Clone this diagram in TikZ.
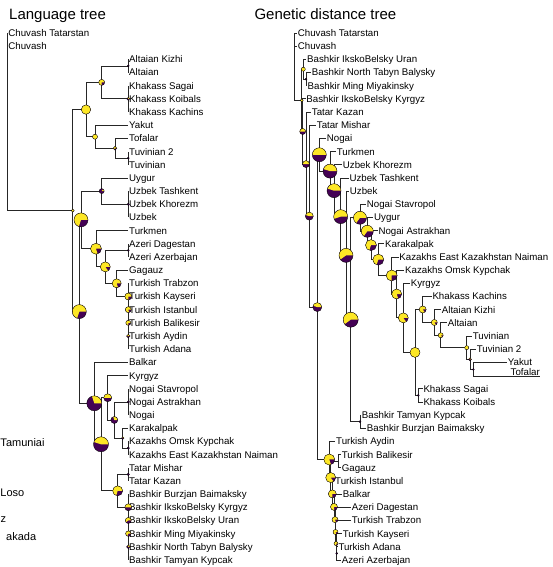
\documentclass[tikz,border=0pt]{standalone}
\usepackage{fontspec}
\setmainfont{Liberation Sans}
\definecolor{vyel}{HTML}{FDE725}
\definecolor{vpur}{HTML}{440154}
\definecolor{brc}{HTML}{262626}
\newcommand\labfont{\fontsize{9.7}{11}\selectfont}
\newcommand\ttlfont{\fontsize{15}{18}\selectfont}
\newcommand\cutfont{\fontsize{11}{13}\selectfont}
\newcommand\pieat[3]{%
  \fill[vpur] (#1) circle[radius=#2];
  \ifdim #3pt>0pt
    \fill[vyel] (#1) -- ++(0:#2) arc[start angle=0,end angle={-360*#3},radius=#2] -- cycle;
  \fi
  \draw[pieedge] (#1) circle[radius=#2];}
\begin{document}
\begin{tikzpicture}[x=1pt,y=-1pt,
  br/.style={draw=brc,line width=0.75pt},
  pieedge/.style={draw=black,line width=0.35pt},
  lab/.style={anchor=west,inner xsep=0.7pt,inner ysep=0pt,text height=6.9pt,text depth=0pt,font=\labfont},
  ttl/.style={anchor=base west,inner sep=0pt,font=\ttlfont},
  cut/.style={anchor=base west,inner sep=0pt,font=\cutfont},
  declare function={yy(\k)=33+13.175*\k;}]
\useasboundingbox (0,0) rectangle (552,567);
\clip (0,0) rectangle (552,567);

% titles
\node[ttl] (t1) at (9,19.3) {Language tree};
\node[ttl] (t2) at (254.3,19.3) {Genetic distance tree};

% texts at the left edge
\node[cut] (c1) at (0.3,446.8) {Tamuniai};
\node[cut] (c2) at (0.3,496.8) {Loso};
\node[cut] (c3) at (0.5,522) {z};
\node[cut] (c4) at (6,540) {akada};

% ---------------- Language tree ----------------
\foreach \n/\t [count=\i from 0] in {lCT/Chuvash Tatarstan,lCh/Chuvash,lAK/Altaian Kizhi,lAlt/Altaian,lKS/Khakass Sagai,lKKo/Khakass Koibals,lKKa/Khakass Kachins,lYak/Yakut,lTof/Tofalar,lTuvB/Tuvinian 2,lTuv/Tuvinian,lUyg/Uygur,lUzT/Uzbek Tashkent,lUzK/Uzbek Khorezm,lUz/Uzbek,lTkm/Turkmen,lAzD/Azeri Dagestan,lAzA/Azeri Azerbajan,lGag/Gagauz,lTrab/Turkish Trabzon,lKays/Turkish Kayseri,lIst/Turkish Istanbul,lBalik/Turkish Balikesir,lAyd/Turkish Aydin,lAda/Turkish Adana,lBalk/Balkar,lKyr/Kyrgyz,lNS/Nogai Stavropol,lNA/Nogai Astrakhan,lNo/Nogai,lKar/Karakalpak,lKO/Kazakhs Omsk Kypchak,lKE/Kazakhs East Kazakhstan Naiman,lTM/Tatar Mishar,lTK/Tatar Kazan,lBBz/Bashkir Burzjan Baimaksky,lBIK/Bashkir IkskoBelsky Kyrgyz,lBIU/Bashkir IkskoBelsky Uran,lBMM/Bashkir Ming Miyakinsky,lBNT/Bashkir North Tabyn Balysky,lBTK/Bashkir Tamyan Kypcak}{
  \pgfmathsetmacro\xx{\i<2 ? 7.5 : 128.3}
  \node[lab] (\n) at (\xx,{yy(\i)}) {\t};
}

\coordinate (lRoot) at (7.5,121.8);
\coordinate (N1) at (72.7,210.6);
\coordinate (S) at (86,109.58);
\coordinate (A) at (101.7,82.41);
\coordinate (A1) at (128.3,65.94);
\coordinate (A2) at (128.3,98.875);
\coordinate (B) at (95,136.75);
\coordinate (C) at (115,148.28);
\coordinate (D) at (128.3,158.16);
\coordinate (E) at (79.3,311.63);
\coordinate (F) at (81,219.92);
\coordinate (U) at (101.7,191.1);
\coordinate (Uz) at (128.3,204.275);
\coordinate (O) at (96,248.74);
\coordinate (O2) at (105.3,266.86);
\coordinate (Az) at (128.3,250.39);
\coordinate (O3) at (116.7,283.33);
\coordinate (P1) at (94.3,403.34);
\coordinate (P2) at (101,444.31);
\coordinate (K1) at (107.7,397.78);
\coordinate (K2) at (114.3,420.02);
\coordinate (K3) at (122.7,438.13);
\coordinate (Nog) at (128.3,401.9);
\coordinate (Kaz) at (128.3,448.01);
\coordinate (TB) at (117.7,490.83);
\coordinate (Tat) at (128.3,474.36);

\draw[br] (lRoot) |- (lCT.west) (lRoot) |- (lCh.west) (lRoot) |- (N1);
\draw[br] (N1) |- (S) (N1) |- (E);
\draw[br] (S) |- (A) (S) |- (B);
\draw[br] (A) |- (A1) (A) |- (A2);
\draw[br] (A1) |- (lAK.west) (A1) |- (lAlt.west);
\draw[br] (A2) |- (lKS.west) (A2) |- (lKKo.west) (A2) |- (lKKa.west);
\draw[br] (B) |- (lYak.west) (B) |- (C);
\draw[br] (C) |- (lTof.west) (C) |- (D);
\draw[br] (D) |- (lTuvB.west) (D) |- (lTuv.west);
\draw[br] (E) |- (F) (E) |- (P1);
\draw[br] (F) |- (U) (F) |- (O);
\draw[br] (U) |- (lUyg.west) (U) |- (Uz);
\draw[br] (Uz) |- (lUzT.west) (Uz) |- (lUzK.west) (Uz) |- (lUz.west);
\draw[br] (O) |- (lTkm.west) (O) |- (O2);
\draw[br] (O2) |- (Az) (O2) |- (O3);
\draw[br] (Az) |- (lAzD.west) (Az) |- (lAzA.west);
\draw[br] (O3) |- (lGag.west) (O3) |- (lKays.west);
\draw[br] (lTrab.west) -- (lAda.west);
\draw[br] (P1) |- (lBalk.west) (P1) |- (P2);
\draw[br] (P2) |- (K1) (P2) |- (TB);
\draw[br] (K1) |- (lKyr.west) (K1) |- (K2);
\draw[br] (K2) |- (Nog) (K2) |- (K3);
\draw[br] (Nog) |- (lNS.west) (Nog) |- (lNo.west);
\draw[br] (K3) |- (lKar.west) (K3) |- (Kaz);
\draw[br] (Kaz) |- (lKO.west) (Kaz) |- (lKE.west);
\draw[br] (TB) |- (Tat) (TB) |- (lBIK.west);
\draw[br] (Tat) |- (lTM.west) (Tat) |- (lTK.west);
\draw[br] (lBBz.west) -- (lBTK.west);

\pieat{N1}{1.5}{1}
\pieat{S}{4.7}{1}
\pieat{A}{3}{0.75}
\pieat{A1}{1}{0}
\pieat{A2}{1.5}{0.3}
\pieat{B}{2.5}{1}
\pieat{C}{1.8}{0.6}
\pieat{D}{1}{0}
\pieat{U}{2.5}{0.15}
\pieat{Uz}{1.2}{0}
\pieat{F}{7}{0.7}
\pieat{O}{5.5}{0.8}
\pieat{O2}{5}{0.85}
\pieat{O3}{4.5}{0.8}
\pieat{Az}{1}{0}
\pieat{lKays.west}{3.5}{0.75}
\pieat{lIst.west}{3}{0.8}
\pieat{lBalik.west}{2.5}{0.75}
\pieat{lAyd.west}{1.8}{0.5}
\pieat{E}{7}{0.7}
\pieat{P1}{7.5}{0.3}
\pieat{K1}{4}{0.5}
\pieat{K2}{3.5}{0.3}
\pieat{K3}{1.3}{0.3}
\pieat{Nog}{1.2}{0}
\pieat{Kaz}{1.2}{0}
\pieat{P2}{7.5}{0.45}
\pieat{TB}{5}{0.7}
\pieat{Tat}{1.2}{0}
\pieat{lBIK.west}{3.5}{0.5}
\pieat{lBIU.west}{3}{0.6}
\pieat{lBMM.west}{2.7}{0.7}
\pieat{lBNT.west}{1.8}{0.3}

% ---------------- Genetic distance tree ----------------
\foreach \n/\x/\i/\t in {rCT/297/0/Chuvash Tatarstan,rCh/297/1/Chuvash,rBIU/306.3/2/Bashkir IkskoBelsky Uran,rBNT/311/3/Bashkir North Tabyn Balysky,rBMM/306.8/4/Bashkir Ming Miyakinsky,rBIK/305.5/5/Bashkir IkskoBelsky Kyrgyz,rTK/311/6/Tatar Kazan,rTM/316/7/Tatar Mishar,rNo/326/8/Nogai,rTkm/336/9/Turkmen,rUzK/342/10/Uzbek Khorezm,rUzT/348.6/11/Uzbek Tashkent,rUz/349/12/Uzbek,rNS/366/13/Nogai Stavropol,rUyg/373.3/14/Uygur,rNA/377.6/15/Nogai Astrakhan,rKar/384.3/16/Karakalpak,rKE/398.5/17/Kazakhs East Kazakhstan Naiman,rKO/404.3/18/Kazakhs Omsk Kypchak,rKyr/410/19/Kyrgyz,rKKa/431.6/20/Khakass Kachins,rAK/441/21/Altaian Kizhi,rAlt/447/22/Altaian,rTuv/472/23/Tuvinian,rTuvB/476/24/Tuvinian 2,rYak/507/25/Yakut,rKS/422.6/27/Khakass Sagai,rKKo/422.6/28/Khakass Koibals,rBTK/361/29/Bashkir Tamyan Kypcak,rBBz/366/30/Bashkir Burzjan Baimaksky,rAyd/335.3/31/Turkish Aydin,rBalik/341/32/Turkish Balikesir,rGag/341/33/Gagauz,rIst/334.3/34/Turkish Istanbul,rBalk/342/35/Balkar,rAzD/351/36/Azeri Dagestan,rTrab/351/37/Turkish Trabzon,rKays/342/38/Turkish Kayseri,rAda/337.6/39/Turkish Adana,rAzA/341/40/Azeri Azerbajan}{
  \node[lab] (\n) at (\x,{yy(\i)}) {\t};
}
\node[anchor=base east,inner sep=0pt,font=\labfont] (rTof) at (540,375.6) {Tofalar};
\coordinate (tofend) at (540,376.5);

\coordinate (gRoot) at (294,66.7);
\coordinate (gQ) at (301.7,100.37);
\coordinate (gBS) at (303.3,69.23);
\coordinate (gBNM) at (306,79.11);
\coordinate (gR2) at (302.7,131.5);
\coordinate (gR3) at (306,164.12);
\coordinate (gR4) at (309.3,216.18);
\coordinate (gR5) at (317.3,307.13);
\coordinate (gN1) at (319.3,154.77);
\coordinate (gN2) at (330,171.14);
\coordinate (gN3) at (334,190.71);
\coordinate (gN4) at (340.7,216.67);
\coordinate (gN5) at (346,255.41);
\coordinate (gBig) at (350.7,319.73);
\coordinate (gNS) at (360,217.79);
\coordinate (gUY) at (367.3,231.3);
\coordinate (gNA) at (371,245.14);
\coordinate (gKAR) at (378.3,259.65);
\coordinate (gKE) at (391.7,275.49);
\coordinate (gKO) at (396.7,294);
\coordinate (gKY) at (403.3,317.86);
\coordinate (gSIB) at (415,352.4);
\coordinate (gKK) at (422.7,309.48);
\coordinate (gAL1) at (434.3,322.47);
\coordinate (gAL2) at (440.7,335.26);
\coordinate (gT) at (466.7,347.67);
\coordinate (gX) at (470,359.32);
\coordinate (gYT) at (473.3,369.44);
\coordinate (gKSK) at (418.3,395.31);
\coordinate (gBB) at (360,421.66);
\coordinate (gT1) at (329.3,459.49);
\coordinate (gT2) at (330.7,477.56);
\coordinate (gBG) at (338.3,461.19);
\coordinate (gT3) at (332.3,493.92);
\coordinate (gT4) at (334,506.89);
\coordinate (gT5) at (335,519.65);
\coordinate (gT6) at (335.5,532);
\coordinate (gT7) at (336,543.53);
\coordinate (gT8) at (336.7,553.41);

\draw[br] (gRoot) |- (rCT.west) (gRoot) |- (rCh.west) (gRoot) |- (gQ);
\draw[br] (gQ) |- (gBS) (gQ) |- (gR2);
\draw[br] (gBS) |- (rBIU.west) (gBS) |- (gBNM);
\draw[br] (gBNM) |- (rBNT.west) (gBNM) |- (rBMM.west);
\draw[br] (gR2) |- (rBIK.west) (gR2) |- (gR3);
\draw[br] (gR3) |- (rTK.west) (gR3) |- (gR4);
\draw[br] (gR4) |- (rTM.west) (gR4) |- (gR5);
\draw[br] (gR5) |- (gN1) (gR5) |- (gT1);
\draw[br] (gN1) |- (rNo.west) (gN1) |- (gN2);
\draw[br] (gN2) |- (rTkm.west) (gN2) |- (gN3);
\draw[br] (gN3) |- (rUzK.west) (gN3) |- (gN4);
\draw[br] (gN4) |- (rUzT.west) (gN4) |- (gN5);
\draw[br] (gN5) |- (rUz.west) (gN5) |- (gBig);
\draw[br] (gBig) |- (gNS) (gBig) |- (gBB);
\draw[br] (gBB) |- (rBTK.west) (gBB) |- (rBBz.west);
\draw[br] (gNS) |- (rNS.west) (gNS) |- (gUY);
\draw[br] (gUY) |- (rUyg.west) (gUY) |- (gNA);
\draw[br] (gNA) |- (rNA.west) (gNA) |- (gKAR);
\draw[br] (gKAR) |- (rKar.west) (gKAR) |- (gKE);
\draw[br] (gKE) |- (rKE.west) (gKE) |- (gKO);
\draw[br] (gKO) |- (rKO.west) (gKO) |- (gKY);
\draw[br] (gKY) |- (rKyr.west) (gKY) |- (gSIB);
\draw[br] (gSIB) |- (gKK) (gSIB) |- (gKSK);
\draw[br] (gKSK) |- (rKS.west) (gKSK) |- (rKKo.west);
\draw[br] (gKK) |- (rKKa.west) (gKK) |- (gAL1);
\draw[br] (gAL1) |- (rAK.west) (gAL1) |- (gAL2);
\draw[br] (gAL2) |- (rAlt.west) (gAL2) |- (gT);
\draw[br] (gT) |- (rTuv.west) (gT) |- (gX);
\draw[br] (gX) |- (rTuvB.west) (gX) |- (gYT);
\draw[br] (gYT) |- (rYak.west) (gYT) |- (tofend);
\draw[br] (gT1) |- (rAyd.west) (gT1) |- (gT2);
\draw[br] (gT2) |- (gBG) (gT2) |- (gT3);
\draw[br] (gBG) |- (rBalik.west) (gBG) |- (rGag.west);
\draw[br] (gT3) |- (rIst.west) (gT3) |- (gT4);
\draw[br] (gT4) |- (rBalk.west) (gT4) |- (gT5);
\draw[br] (gT5) |- (rAzD.west) (gT5) |- (gT6);
\draw[br] (gT6) |- (rTrab.west) (gT6) |- (gT7);
\draw[br] (gT7) |- (rKays.west) (gT7) |- (gT8);
\draw[br] (gT8) |- (rAda.west) (gT8) |- (rAzA.west);

\pieat{gQ}{1.5}{1}
\pieat{gBS}{2}{1}
\pieat{gBNM}{1}{0}
\pieat{gR2}{3}{0.5}
\pieat{gR3}{3.5}{0.5}
\pieat{gR4}{4}{0.45}
\pieat{gR5}{4.5}{0.45}
\pieat{gN1}{7}{0.5}
\pieat{gN2}{7}{0.45}
\pieat{gN3}{7}{0.45}
\pieat{gN4}{7}{0.55}
\pieat{gN5}{7}{0.6}
\pieat{gBig}{7.5}{0.6}
\pieat{gNS}{6.5}{0.65}
\pieat{gUY}{6}{0.65}
\pieat{gNA}{5.5}{0.7}
\pieat{gKAR}{5.5}{0.7}
\pieat{gKE}{5.5}{0.75}
\pieat{gKO}{5}{0.8}
\pieat{gKY}{5}{0.85}
\pieat{gSIB}{5}{1}
\pieat{gKK}{3.5}{0.85}
\pieat{gAL1}{3}{0.85}
\pieat{gAL2}{2.5}{0.85}
\pieat{gT}{2}{1}
\pieat{gX}{1.5}{0.4}
\pieat{gYT}{1}{0}
\pieat{gKSK}{1}{0}
\pieat{gBB}{1}{0}
\pieat{gT1}{5.5}{0.8}
\pieat{gT2}{5}{0.85}
\pieat{gT3}{4}{0.75}
\pieat{gT4}{3.5}{0.75}
\pieat{gT5}{3}{0.8}
\pieat{gT6}{2.5}{0.8}
\pieat{gT7}{2}{0.8}
\pieat{gT8}{1}{0}
\end{tikzpicture}
\end{document}
